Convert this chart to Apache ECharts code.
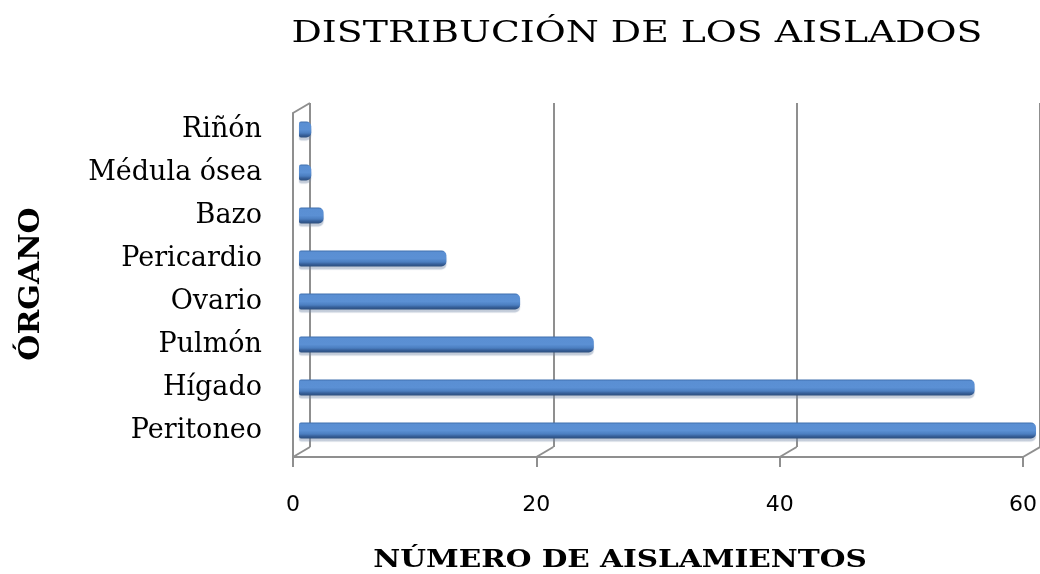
<!DOCTYPE html>
<html>
<head>
<meta charset="utf-8">
<script src="https://cdn.jsdelivr.net/npm/echarts@6/dist/echarts.min.js"></script>
<style>html,body{margin:0;padding:0;background:#fff}#c{width:1040px;height:574px}</style>
</head>
<body>
<div id="c"></div>
<script>
// Data (bottom to top on the category axis)
const categories = ["Peritoneo", "Hígado", "Pulmón", "Ovario", "Pericardio", "Bazo", "Médula ósea", "Riñón"];
const values = [60, 55, 24, 18, 12, 2, 1, 1];
const xTicks = [0, 20, 40, 60];
const titleText = "DISTRIBUCIÓN DE LOS AISLADOS";
const xAxisTitle = "NÚMERO DE AISLAMIENTOS";
const yAxisTitle = "ÓRGANO";

const serif = "'DejaVu Serif','Liberation Serif',serif";
const gray = "#8f8f8f";
const chart = echarts.init(document.getElementById('c'), null, {renderer: 'canvas'});

const barGrad = new echarts.graphic.LinearGradient(0, 0, 0, 1, [
  {offset: 0, color: '#3f6fae'},
  {offset: 0.12, color: '#5a8fd3'},
  {offset: 0.5, color: '#5b90d4'},
  {offset: 0.72, color: '#4b7ec0'},
  {offset: 0.85, color: '#37609a'},
  {offset: 1, color: '#2b4d7c'}
]);

chart.setOption({
  animation: false,
  graphic: [
    {type: 'text', x: 637, y: 34, scaleX: 1.26, style: {
      text: titleText, font: "30px 'DejaVu Serif', serif", fill: '#000',
      align: 'center', verticalAlign: 'middle'}},
    {type: 'text', x: 32, y: 284, rotation: Math.PI / 2, scaleX: 1.11, style: {
      text: yAxisTitle, font: "bold 27px 'DejaVu Serif', serif", fill: '#000',
      align: 'center', verticalAlign: 'middle'}},
    {type: 'text', x: 620, y: 561, scaleX: 1.23, style: {
      text: xAxisTitle, font: "bold 24px 'DejaVu Serif', serif", fill: '#000',
      align: 'center', verticalAlign: 'middle'}}
  ],
  grid: [
    {left: 299, right: 4, top: 108, height: 344},   // bars
    {left: 293, right: 13, top: 113, height: 344},  // front axis
    {left: 310, right: -5, top: 103, height: 344}   // back wall
  ],
  xAxis: [
    {gridIndex: 0, type: 'value', min: 0, max: 60, interval: 20, show: false},
    {gridIndex: 1, type: 'value', min: 0, max: 60, interval: 20,
      axisLine: {show: true, lineStyle: {color: gray, width: 2}},
      axisTick: {show: true, length: 10, lineStyle: {color: gray, width: 2}},
      axisLabel: {fontFamily: "'DejaVu Sans', sans-serif", fontSize: 22, color: '#000', margin: 37,
        showMaxLabel: true},
      splitLine: {show: false}},
    {gridIndex: 2, type: 'value', min: 0, max: 60, interval: 20,
      axisLine: {show: false}, axisTick: {show: false}, axisLabel: {show: false},
      splitLine: {show: true, lineStyle: {color: gray, width: 2}}}
  ],
  yAxis: [
    {gridIndex: 0, type: 'category', data: categories,
      axisLine: {show: false}, axisTick: {show: false},
      axisLabel: {fontFamily: serif, fontSize: 27, color: '#000', margin: 37}},
    {gridIndex: 1, type: 'value', min: 0, max: 1,
      axisLine: {show: true, lineStyle: {color: gray, width: 2}}, axisTick: {show: false},
      axisLabel: {show: false}, splitLine: {show: false}},
    {gridIndex: 2, type: 'value', min: 0, max: 1, show: false, splitLine: {show: false}}
  ],
  series: [
    {
      type: 'custom', xAxisIndex: 2, yAxisIndex: 2, silent: true, z: 1,
      data: xTicks.map(v => [v, 0]).concat([[0, 1]]),
      renderItem: function (params, api) {
        const p = api.coord([api.value(0), api.value(1)]);
        return {type: 'line', shape: {x1: p[0] - 17, y1: p[1] + 10, x2: p[0], y2: p[1]},
          style: {stroke: gray, lineWidth: 2}};
      }
    },
    {
      type: 'bar', xAxisIndex: 0, yAxisIndex: 0, data: values, barWidth: 16, z: 3,
      itemStyle: {color: barGrad, borderRadius: [2, 5, 5, 2],
        shadowColor: 'rgba(120,140,170,0.45)', shadowOffsetY: 3, shadowBlur: 1}
    }
  ]
});
</script>
</body>
</html>
